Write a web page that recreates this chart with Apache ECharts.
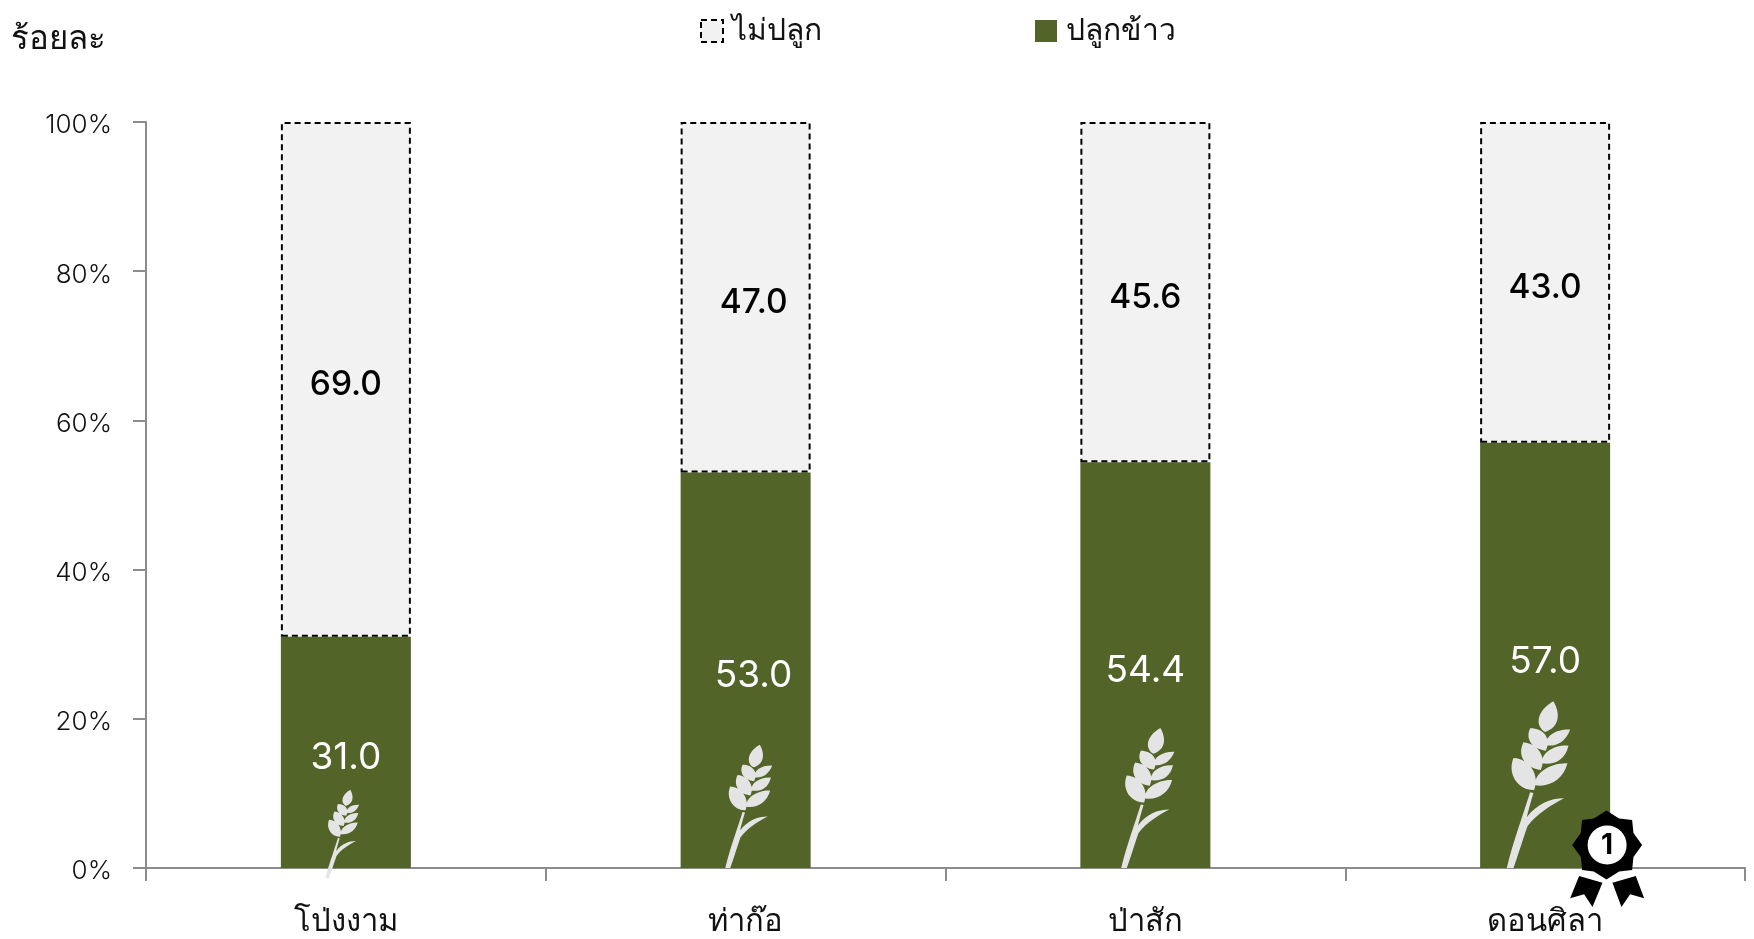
<!DOCTYPE html>
<html><head><meta charset="utf-8">
<style>html,body{margin:0;padding:0;background:#fff}#c{width:1754px;height:939px}</style>
<script src="https://cdn.jsdelivr.net/npm/echarts@6/dist/echarts.min.js"></script>
</head><body><div id="c"></div>
<script>
const categories = ['โป่งงาม','ท่าก๊อ','ป่าสัก','ดอนศิลา'];
const planted = [31.0, 53.0, 54.4, 57.0];
const notPlanted = [69.0, 47.0, 45.6, 43.0];
const yTicks = [0, 20, 40, 60, 80, 100];
const wheatScale = [0.53, 0.74, 0.84, 1];
const wheatDrop = [10, 0, 0, 0];
const wheatShift = [0, 8, 8, 0];
const labelShift = [0, 8, 0, 0];
const winnerIndex = 3;

const FONT = '"Open Sans","Noto Sans",sans-serif';
const NUM = 'Inter,"Open Sans",sans-serif';
const GREEN = '#526428', GREY = '#F2F2F2', AXIS = '#8C8C8C';

const WHEAT = 'M610,122C632,160 628,200 585,214C553,195 560,150 610,122Z' +
 'M540,203C582,203 605,235 587,270C545,265 525,235 540,203Z' +
 'M660,207C645,245 618,258 588,254C585,225 620,205 660,207Z' +
 'M520,245C565,250 590,290 572,328C525,322 500,285 520,245Z' +
 'M655,255C645,300 610,314 575,308C575,275 612,252 655,255Z' +
 'M490,292C540,295 570,345 552,388C505,390 470,340 490,292Z' +
 'M652,308C640,355 600,380 556,374C550,340 598,306 652,308Z' +
 'M540,395L550,397C540,430 535,450 530,470C560,430 600,413 642,413C600,435 560,460 532,497C517,540 502,590 490,622L470,622C490,540 520,460 540,395Z';
const STAR = 'M768,452L806,476L845,480L849,519L875,555L849,591L845,630L806,634L768,658L730,634L695,630L691,591L665,555L691,519L695,480L730,476Z';
const RIBBONS = 'M685,645L755,665L725,738L700,700L658,712Z M785,665L855,645L880,712L838,700L812,738Z';

const dashed = {color:GREY, borderColor:'#000', borderWidth:2, borderType:[6,4]};
const legendText = {fontFamily:FONT, fontSize:30, color:'#111'};
const option = {
  animation:false,
  backgroundColor:'#fff',
  title:{text:'ร้อยละ', left:6, top:18, textStyle:{fontFamily:FONT, fontSize:33, fontWeight:'normal', color:'#111'}},
  legend:{
    data:[
      {name:'ไม่ปลูก', icon:'rect', itemStyle:dashed, textStyle:Object.assign({padding:[0,0,0,4]},legendText)},
      {name:'ปลูกข้าว', icon:'rect', itemStyle:{color:GREEN}, textStyle:Object.assign({padding:[0,0,0,4]},legendText)}
    ],
    left:695, top:11, itemWidth:22, itemHeight:22, itemGap:213,
    textStyle:legendText, selectedMode:false
  },
  grid:{left:146, right:9, top:122, bottom:71},
  xAxis:{type:'category', data:categories,
    axisLine:{lineStyle:{color:AXIS, width:2}},
    axisTick:{show:true, alignWithLabel:false, length:13, lineStyle:{color:AXIS, width:2}},
    axisLabel:{fontFamily:FONT, fontSize:31, color:'#111', margin:39}},
  yAxis:{type:'value', min:0, max:100, interval:20,
    splitLine:{show:false},
    axisLine:{show:true, lineStyle:{color:AXIS, width:2}},
    axisTick:{show:true, length:13, lineStyle:{color:AXIS, width:2}},
    axisLabel:{fontFamily:NUM, fontSize:26, fontWeight:300, color:'#111', margin:34, verticalAlign:'top', lineHeight:7,
      formatter:function(v){return yTicks.indexOf(v)>=0 ? v+'%' : '';}}},
  series:[
    {name:'ปลูกข้าว', type:'bar', stack:'t', barWidth:130,
     itemStyle:{color:GREEN},
     data:planted.map(function(v,i){return {value:v, label:{offset:[labelShift[i],6]}};}),
     label:{show:true, position:'inside', color:'#fff', fontFamily:NUM, fontSize:37, fontWeight:400,
       formatter:function(p){return p.value.toFixed(1);}}},
    {name:'ไม่ปลูก', type:'bar', stack:'t', barWidth:130,
     itemStyle:dashed,
     data:notPlanted.map(function(v,i){return {value:v, label:{offset:[labelShift[i],6]}};}),
     label:{show:true, position:'inside', color:'#000', fontFamily:NUM, fontSize:33.5, fontWeight:500,
       formatter:function(p){return p.value.toFixed(1);}}},
    {name:'wheat', type:'custom', z:5, clip:false, silent:true,
     data:categories.map(function(c,i){return [i,0];}),
     renderItem:function(params, api){
       const i = api.value(0), p = api.coord([i,0]), s = wheatScale[i];
       const w = 190/3*s, h = 500/3*s;
       return {type:'path', shape:{pathData:WHEAT, x:p[0]+wheatShift[i]-35*s-10/3*s, y:p[1]+wheatDrop[i]-h, width:w, height:h, layout:'cover'},
               style:{fill:'#E4E4E4'}};
     }},
    {name:'badge', type:'custom', z:6, clip:false, silent:true,
     data:[[winnerIndex,0]],
     renderItem:function(params, api){
       const p = api.coord([api.value(0),0]);
       const cx = p[0]+62, cy = p[1]-23;
       return {type:'group', children:[
         {type:'path', shape:{pathData:RIBBONS, x:cx-37, y:cy+31, width:74, height:31, layout:'cover'}, style:{fill:'#000'}},
         {type:'path', shape:{pathData:STAR, x:cx-35, y:cy-34.5, width:70, height:69, layout:'cover'}, style:{fill:'#000'}},
         {type:'circle', shape:{cx:cx, cy:cy, r:19.5}, style:{fill:'#fff'}},
         {type:'text', style:{text:'1', x:cx, y:cy+1, align:'center', verticalAlign:'middle', fill:'#000', font:'bold 28px '+NUM}}
       ]};
     }}
  ]
};
echarts.init(document.getElementById('c')).setOption(option);
</script></body></html>
